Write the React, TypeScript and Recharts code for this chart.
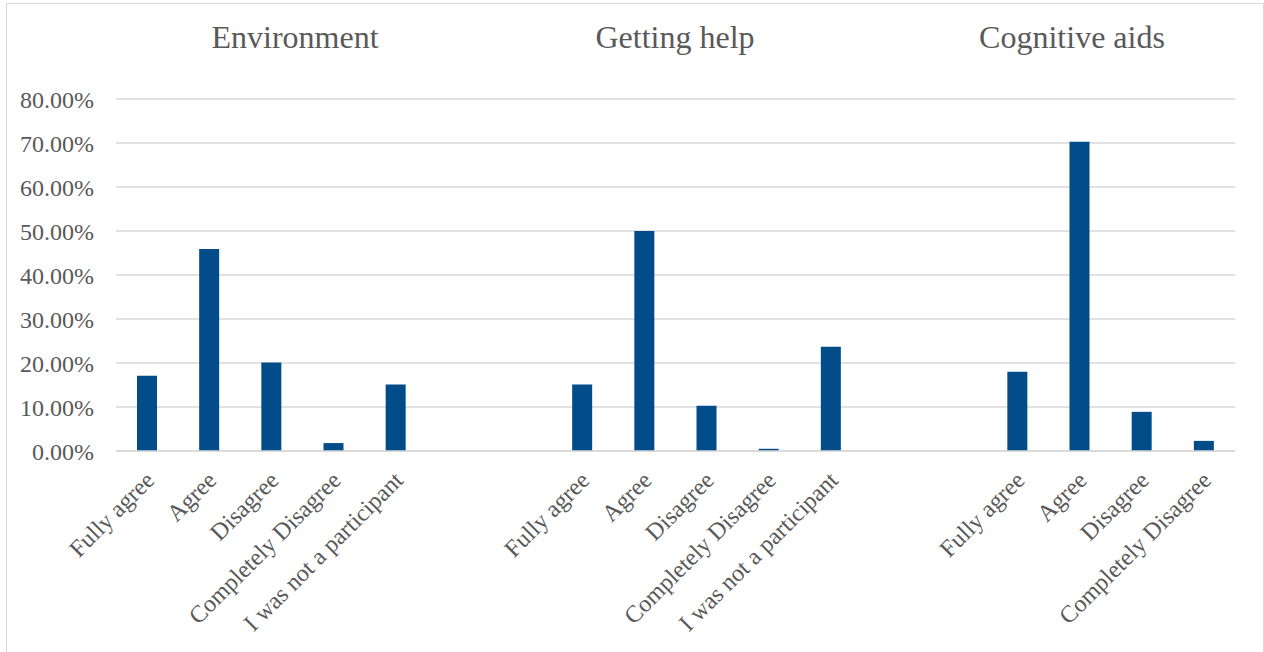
import { BarChart, Bar, XAxis, YAxis, CartesianGrid } from 'recharts';

// Survey answers, in percent, per question block
const environmentLabels = ['Fully agree', 'Agree', 'Disagree', 'Completely Disagree', 'I was not a participant'];
const environmentValues = [17.1, 45.9, 20.1, 1.8, 15.1];

const helpLabels = ['Fully agree', 'Agree', 'Disagree', 'Completely Disagree', 'I was not a participant'];
const helpValues = [15.1, 50.0, 10.3, 0.5, 23.7];

const cognitiveLabels = ['Fully agree', 'Agree', 'Disagree', 'Completely Disagree'];
const cognitiveValues = [18.0, 70.3, 8.9, 2.3];

const blockTitles = ['Environment', 'Getting help', 'Cognitive aids'];
const yTicks = [0, 10, 20, 30, 40, 50, 60, 70, 80];

// empty category slots between blocks
const GAP_SLOTS = 2;

const BLUE = '#024c8a';
const GREY_TEXT = '#595959';
const GRID = '#d9d9d9';
const FONT = '"Liberation Serif", "Times New Roman", serif';

type Row = { slot: string; label: string; value: number | null };

function buildRows(): Row[] {
  const blocks: [string, string[], number[]][] = [
    ['env', environmentLabels, environmentValues],
    ['help', helpLabels, helpValues],
    ['cog', cognitiveLabels, cognitiveValues],
  ];
  const rows: Row[] = [];
  blocks.forEach(([key, labels, values], b) => {
    labels.forEach((label, i) => rows.push({ slot: `${key}-${i}`, label, value: values[i] }));
    if (b < blocks.length - 1) {
      for (let g = 0; g < GAP_SLOTS; g++) rows.push({ slot: `${key}-gap-${g}`, label: '', value: null });
    }
  });
  return rows;
}

const rows = buildRows();

function CategoryTick({ x, y, payload }: { x: number; y: number; payload: { index: number } }) {
  const label = rows[payload.index]?.label;
  if (!label) return null;
  const ax = x + 3;
  const ay = y + 25;
  return (
    <text
      x={ax}
      y={ay}
      transform={`rotate(-45, ${ax}, ${ay})`}
      textAnchor="end"
      dominantBaseline="central"
      fill={GREY_TEXT}
      fontSize={24}
      fontFamily={FONT}
    >
      {label}
    </text>
  );
}

// block headings sit above the plot, as free text boxes
const titleX = [295, 675, 1072];

export default function App() {
  return (
    <div style={{ position: 'absolute', left: 0, top: 0, width: 1264, height: 652, overflow: 'hidden', background: '#fff' }}>
      <div
        style={{
          position: 'absolute',
          left: 6,
          top: 3,
          width: 1258,
          height: 670,
          border: `1px solid ${GRID}`,
          boxSizing: 'border-box',
        }}
      />
      <BarChart
        width={1264}
        height={652}
        data={rows}
        margin={{ top: 99, right: 29, bottom: 11, left: 16 }}
        barSize={20}
      >
        <CartesianGrid horizontal vertical={false} stroke={GRID} strokeWidth={1.5} />
        <XAxis
          dataKey="slot"
          interval={0}
          height={190}
          tickSize={0}
          tickMargin={0}
          tickLine={false}
          axisLine={{ stroke: GRID, strokeWidth: 1.5 }}
          tick={(props: any) => <CategoryTick {...props} />}
        />
        <YAxis
          width={100}
          domain={[0, 80]}
          ticks={yTicks}
          interval={0}
          tickSize={0}
          tickMargin={22}
          axisLine={false}
          tickLine={false}
          tickFormatter={(v: number) => `${v.toFixed(2)}%`}
          tick={{ fill: GREY_TEXT, fontSize: 24, fontFamily: FONT }}
        />
        <Bar dataKey="value" fill={BLUE} isAnimationActive={false} />
      </BarChart>
      <svg
        width={1264}
        height={80}
        style={{ position: 'absolute', left: 0, top: 0, pointerEvents: 'none' }}
      >
        {blockTitles.map((t, i) => (
          <text key={t} x={titleX[i]} y={48} textAnchor="middle" fill={GREY_TEXT} fontSize={32} fontFamily={FONT}>
            {t}
          </text>
        ))}
      </svg>
    </div>
  );
}
